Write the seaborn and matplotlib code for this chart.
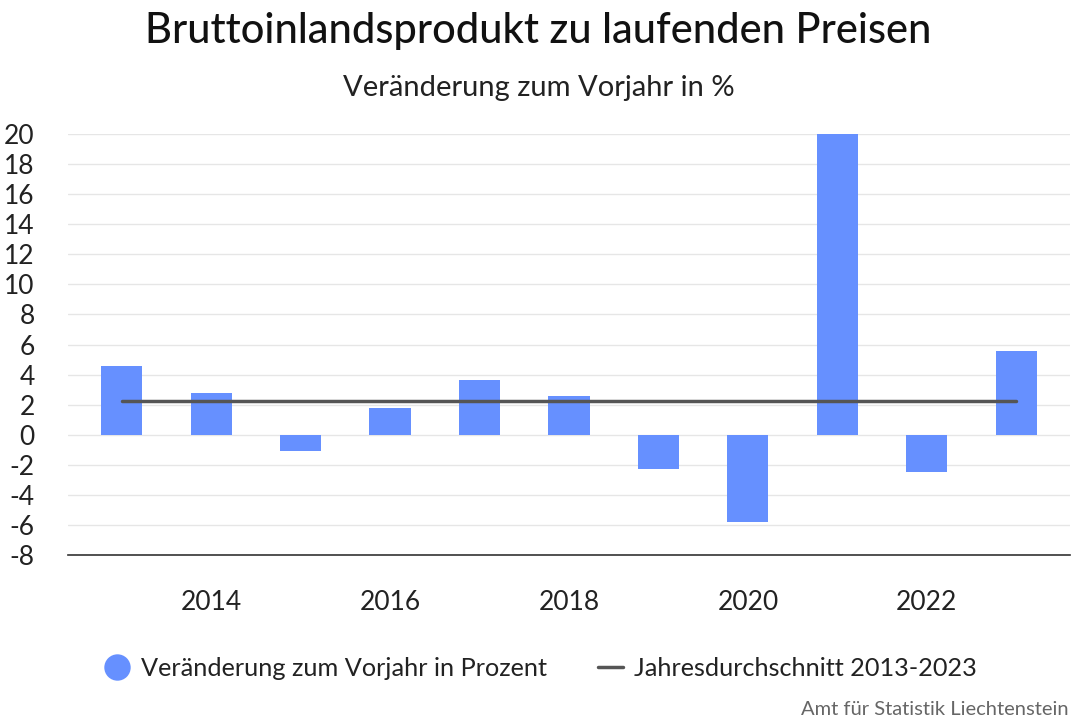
import pandas as pd
import matplotlib.pyplot as plt
import seaborn as sns
from matplotlib.lines import Line2D

# Data
years = [2013, 2014, 2015, 2016, 2017, 2018, 2019, 2020, 2021, 2022, 2023]
change_pct = [4.6, 2.8, -1.05, 1.8, 3.65, 2.6, -2.25, -5.8, 20.0, -2.5, 5.6]
avg_years = [2013, 2023]
avg_value = 2.27
y_ticks = list(range(-8, 21, 2))
x_ticks = [2014, 2016, 2018, 2020, 2022]

bar_label = 'Veränderung zum Vorjahr in Prozent'
avg_label = 'Jahresdurchschnitt 2013-2023'

bar_color = '#6690ff'
line_color = '#555555'

sns.set_style('white')
plt.rcParams['font.family'] = ['Lato', 'DejaVu Sans']
plt.rcParams['axes.unicode_minus'] = False

df = pd.DataFrame({'Jahr': years, 'Veränderung': change_pct})
df_avg = pd.DataFrame({'Jahr': avg_years, 'Durchschnitt': [avg_value] * len(avg_years)})

fig = plt.figure(figsize=(10.77, 7.2), dpi=100)
ax = fig.add_axes([0.0631, 0.229, 0.9304, 0.585])

ax.set_axisbelow(True)
ax.grid(axis='y', color='#e6e6e6', linewidth=1)

sns.barplot(data=df, x='Jahr', y='Veränderung', native_scale=True, width=0.46,
            color=bar_color, saturation=1, edgecolor='none', ax=ax, zorder=2)
sns.lineplot(data=df_avg, x='Jahr', y='Durchschnitt', color=line_color,
             linewidth=2.5, ax=ax, zorder=3)

ax.set_xlim(2012.4, 2023.6)
ax.set_ylim(-8, 20)
ax.set_yticks(y_ticks)
ax.set_xticks(x_ticks)
ax.set_xticklabels([str(x) for x in x_ticks])
ax.set_xlabel('')
ax.set_ylabel('')

for side in ['top', 'right', 'left']:
    ax.spines[side].set_visible(False)
ax.spines['bottom'].set_color('#333333')
ax.spines['bottom'].set_linewidth(1.2)

ax.tick_params(axis='x', length=7, width=1.2, color='#333333', pad=18,
               labelsize=19, labelcolor='#222222')
ax.tick_params(axis='y', length=0, pad=24, labelsize=19, labelcolor='#222222')

fig.text(0.5, 0.957, 'Bruttoinlandsprodukt zu laufenden Preisen', ha='center',
         va='center', fontsize=30, fontweight='medium', color='#111111')
fig.text(0.5, 0.878, 'Veränderung zum Vorjahr in %', ha='center', va='center',
         fontsize=21, color='#222222')

handles = [
    Line2D([0], [0], marker='o', linestyle='none', markersize=19,
           markerfacecolor=bar_color, markeredgecolor='none'),
    Line2D([0], [0], color=line_color, linewidth=2.5),
]
fig.legend(handles, [bar_label, avg_label], loc='center', bbox_to_anchor=(0.502, 0.072),
           ncol=2, frameon=False, fontsize=18.2, handlelength=1.0, handletextpad=0.45,
           columnspacing=2.0, labelcolor='#222222')

fig.text(0.992, 0.015, 'Amt für Statistik Liechtenstein', ha='right', va='center',
         fontsize=14.5, color='#666666')

fig.savefig('out.png', dpi=100)
